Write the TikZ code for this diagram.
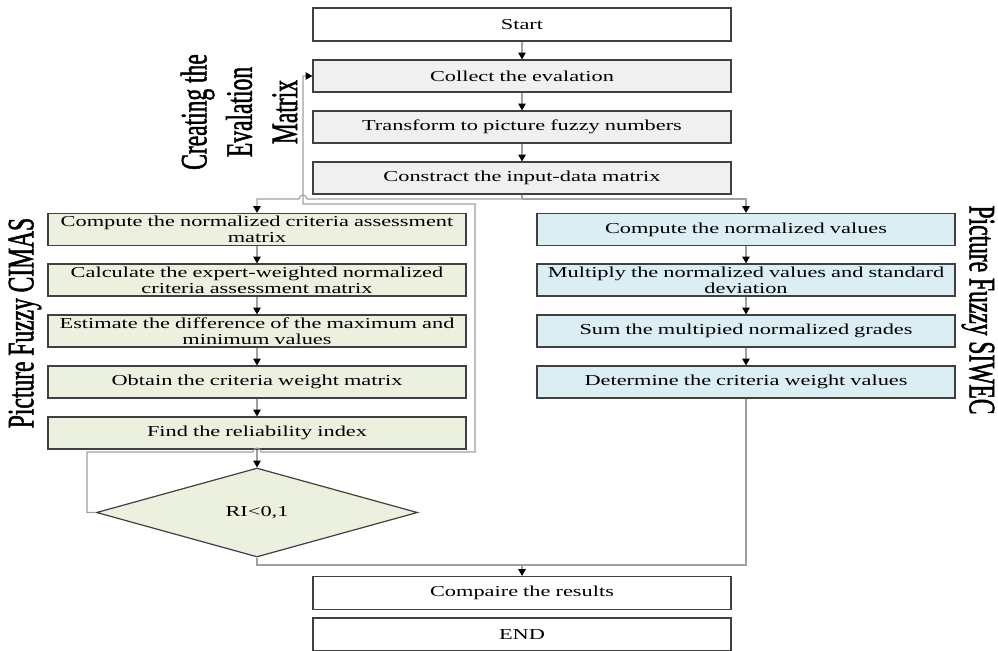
\documentclass[tikz,border=0pt]{standalone}
\usepackage{fontspec}
\setmainfont{Liberation Serif}
\newfontfamily\boxfont{Liberation Serif}[FakeStretch=1.47]
\newfontfamily\labfont{Liberation Serif}[FakeStretch=0.63,FakeBold=1.2]
\usetikzlibrary{arrows.meta,shapes.geometric}
\definecolor{boxgray}{HTML}{F0F0F0}
\definecolor{boxgreen}{HTML}{EBF1DE}
\definecolor{boxblue}{HTML}{DAEEF3}
\definecolor{edgecol}{HTML}{404040}
\definecolor{conncol}{HTML}{A0A0A0}
\begin{document}
\begin{tikzpicture}[x=0.75pt,y=-0.75pt,
  flowbox/.style={draw=edgecol,line width=0.9pt,minimum width=313.5pt,minimum height=24pt,
    inner sep=1pt,align=center,text width=310pt,font=\boxfont\fontsize{11.4}{12}\selectfont},
  graybox/.style={flowbox,fill=boxgray},
  greenbox/.style={flowbox,fill=boxgreen},
  bluebox/.style={flowbox,fill=boxblue},
  whitebox/.style={flowbox,fill=white},
  connline/.style={draw=conncol,line width=0.8pt},
  arrline/.style={connline,-{Triangle[length=5pt,width=5.5pt,color=black]}},
  sidelabel/.style={font=\labfont\fontsize{28}{34}\selectfont,align=center,inner sep=0pt}]
\useasboundingbox (0,0) rectangle (998,650);
\fill[white] (0,0) rectangle (998,650);

% main column
\node[whitebox,minimum height=24.75pt] (start) at (522,24.5) {Start};
\node[graybox] (c1) at (522,76) {Collect the evalation};
\node[graybox] (c2) at (522,127) {Transform to picture fuzzy numbers};
\node[graybox] (c3) at (522,178) {Constract the input-data matrix};

% CIMAS
\node[greenbox] (m1) at (257,229.5) {Compute the normalized criteria assessment\\matrix};
\node[greenbox] (m2) at (257,280) {Calculate the expert-weighted normalized\\criteria assessment matrix};
\node[greenbox] (m3) at (257,331) {Estimate the difference of the maximum and\\minimum values};
\node[greenbox] (m4) at (257,382) {Obtain the criteria weight matrix};
\node[greenbox] (m5) at (257,433) {Find the reliability index};
\node[diamond,draw=edgecol,line width=0.9pt,fill=boxgreen,aspect=3.6,inner sep=0pt,
  minimum width=240.75pt,minimum height=66.75pt,font=\boxfont\fontsize{11.4}{12}\selectfont]
  (dia) at (257,512.5) {RI<0,1};

% SIWEC
\node[bluebox] (s1) at (746,229.5) {Compute the normalized values};
\node[bluebox] (s2) at (746,280) {Multiply the normalized values and standard\\deviation};
\node[bluebox] (s3) at (746,331) {Sum the multipied normalized grades};
\node[bluebox] (s4) at (746,382) {Determine the criteria weight values};

% end
\node[whitebox,minimum height=24.75pt] (cmp) at (522,593) {Compaire the results};
\node[whitebox,minimum height=24.75pt] (fin) at (522,634.5) {END};

% labels
\node[sidelabel,rotate=90] (lc) at (239,112) {Creating the\\Evalation\\Matrix};
\node[sidelabel,rotate=90] (lp) at (25,323) {Picture Fuzzy CIMAS};
\node[sidelabel,rotate=-90] (ls) at (978,310) {Picture Fuzzy SIWEC};

% connectors
\draw[arrline] (start) -- (c1);
\draw[arrline] (c1) -- (c2);
\draw[arrline] (c2) -- (c3);
\coordinate (split) at (522,199);
\draw[connline] (c3.south) -- (split);
\draw[arrline] (split) -- (307,199) arc[start angle=0,end angle=180,radius=3pt] -| (m1.north);
\draw[arrline] (split) -| (s1.north);
\draw[arrline] (m1) -- (m2);
\draw[arrline] (m2) -- (m3);
\draw[arrline] (m3) -- (m4);
\draw[arrline] (m4) -- (m5);
\draw[arrline] (m5) -- (dia);
\draw[arrline] (s1) -- (s2);
\draw[arrline] (s2) -- (s3);
\draw[arrline] (s3) -- (s4);
% feedback loop
\draw[arrline] (dia.west) -| (87,452) -- (253,452) arc[start angle=180,end angle=0,radius=3pt]
  -- (475,452) |- (303,204) |- (c1.west);
% merge
\coordinate (join) at (522,565);
\draw[connline] (dia.south) |- (join);
\draw[connline] (s4.south) |- (join);
\draw[arrline] (join) -- (cmp.north);
\end{tikzpicture}
\end{document}
